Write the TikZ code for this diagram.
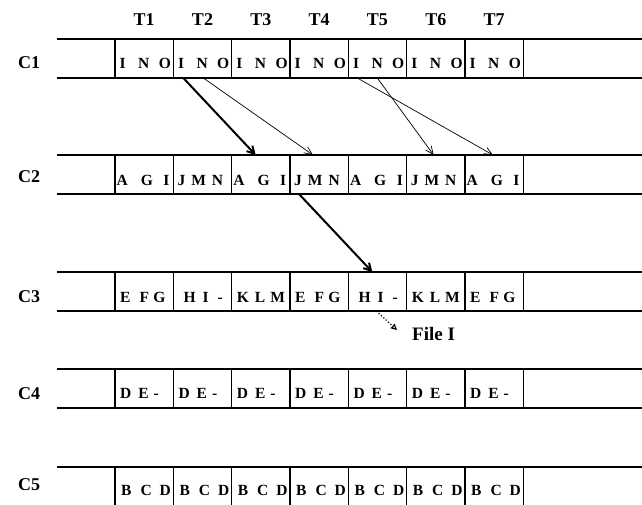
\documentclass[tikz,border=0pt]{standalone}
\usepackage{fontspec}
\setmainfont{Liberation Serif}
\usetikzlibrary{arrows.meta,calc}

% letter spacing inside a cell, in pt
\newcommand\lsp[1]{\hspace{#1pt}}

\tikzset{
  rowline/.style={line width=1.1pt},
  cellbox/.style={draw, rectangle, line width=1.1pt, minimum width=58.33pt,
    minimum height=39pt, inner sep=0pt, outer sep=0pt},
  celltext/.style={anchor=base west, inner sep=0pt,
    font=\fontsize{15.5}{18}\selectfont\bfseries},
  rowlabel/.style={anchor=base west, inner sep=0pt,
    font=\fontsize{18}{20}\selectfont\bfseries},
  colhead/.style={anchor=base, inner sep=0pt,
    font=\fontsize{18}{20}\selectfont\bfseries},
  filelabel/.style={anchor=base west, inner sep=0pt,
    font=\fontsize{19}{21}\selectfont\bfseries},
  thinarrow/.style={line width=0.7pt, -{Straight Barb[length=8pt,width=7pt]}},
  thickarrow/.style={line width=2pt, -{Straight Barb[length=7pt,width=8pt]}},
  dotarrow/.style={line width=1.2pt, dotted, -{Triangle[open,length=6pt,width=6pt]}},
}

\begin{document}
\begin{tikzpicture}[x=1pt,y=-1pt]
\useasboundingbox (0,0) rectangle (642,504);
\clip (0,0) rectangle (642,504);

% column headings
\foreach \k in {1,...,7}
  \node[colhead] (t\k) at ({115+58.33*(\k-0.5)},25) {T\k};

% the five rows: long rules, label and seven cells
\foreach \r/\top/\lab in {1/39/29, 2/155/27, 3/272/30, 4/369/30, 5/467/23} {
  \draw[rowline] (57,\top) -- (642,\top);
  \draw[rowline] (57,\top+39) -- (642,\top+39);
  \node[rowlabel] (lab\r) at (18,\top+\lab) {C\r};
  \foreach \k in {1,...,7}
    \node[cellbox] (c\r-\k) at ({115+58.33*(\k-0.5)},\top+19.5) {};
}

% cell contents
\foreach \k in {1,...,7}
  \node[celltext] at ($(c1-\k.north west)+(4.5,29)$) {I\lsp{12.5}N\lsp{9.5}O};
\foreach \k in {1,3,5,7}
  \node[celltext] at ($(c2-\k.north west)+(1.5,30)$) {A\lsp{13}G\lsp{10.5}I};
\foreach \k in {2,4,6}
  \node[celltext] at ($(c2-\k.north west)+(4,30)$) {J\lsp{6}M\lsp{6}N};
\foreach \k in {1,4,7}
  \node[celltext] at ($(c3-\k.north west)+(5,30)$) {E\lsp{9}F\lsp{4.5}G};
\foreach \k in {2,5}
  \node[celltext] at ($(c3-\k.north west)+(10,30)$) {H\lsp{7}I\lsp{9}-};
\foreach \k in {3,6}
  \node[celltext] at ($(c3-\k.north west)+(5,30)$) {K\lsp{6}L\lsp{5}M};
\foreach \k in {1,...,7}
  \node[celltext] at ($(c4-\k.north west)+(5,29)$) {D\lsp{7}E\lsp{5}-};
\foreach \k in {1,...,7}
  \node[celltext] at ($(c5-\k.north west)+(6,28)$) {B\lsp{9}C\lsp{8}D};

% transfers between rows
\draw[thickarrow] ($(c1-2.south west)+(10,0)$) -- ($(c2-3.north west)+(24,0)$);
\draw[thinarrow]  ($(c1-2.south west)+(30,0)$) -- ($(c2-4.north west)+(23,0)$);
\draw[thinarrow]  ($(c1-5.south west)+(9,0)$)  -- ($(c2-7.north west)+(28,0)$);
\draw[thinarrow]  ($(c1-5.south west)+(29,0)$) -- ($(c2-6.north west)+(27,0)$);
\draw[thickarrow] ($(c2-4.south west)+(9,0)$)  -- ($(c3-5.north west)+(24,0)$);

% output to file
\node[filelabel] (filei) at (412,340) {File I};
\coordinate (filetip) at (397,330);
\draw[dotarrow] ($(c3-5.south west)+(28,0)$) -- (filetip);
\end{tikzpicture}
\end{document}
